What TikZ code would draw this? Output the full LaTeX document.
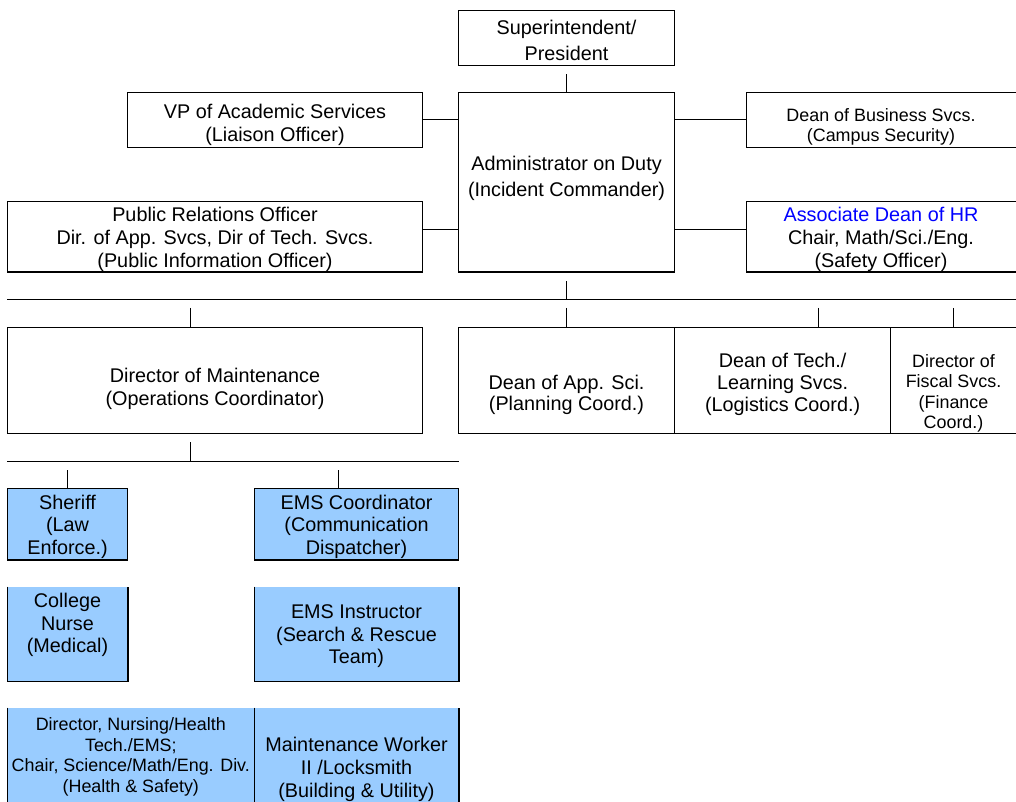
\documentclass[tikz,border=0pt]{standalone}
\usepackage{fontspec}
\setmainfont{Liberation Sans}
\usetikzlibrary{positioning, calc}
\definecolor{paleblue}{RGB}{153,204,255}
\definecolor{hrblue}{RGB}{0,0,255}

\begin{document}
\begin{tikzpicture}[
    x=1pt, y=-1pt,
    box/.style={rectangle, draw=black, line width=1.2pt, inner sep=0pt},
    bluebox/.style={rectangle, fill=paleblue, inner sep=0pt},
    txt/.style={align=center, inner sep=0pt, font=\fontsize{19.8}{22.7}\selectfont},
    smalltxt/.style={txt, font=\fontsize{17.9}{20.6}\selectfont},
    tighttxt/.style={txt, font=\fontsize{19.8}{21.7}\selectfont},
    widetxt/.style={txt, font=\fontsize{19.8}{26.7}\selectfont},
    link/.style={line width=1.2pt},
    drop/.style={link, shorten <=8.5pt}
]
    \useasboundingbox (0,0) rectangle (1016,802);

    % command staff
    \node[box, minimum width=216.3pt, minimum height=54.6pt] (super) at (566.5,38) {};
    \node[box, minimum width=216.3pt, minimum height=179.7pt] (admin) at (566.5,182.2) {};
    \node[box, minimum width=295.4pt, minimum height=55pt] (vp) at (275,119.8) {};
    \node[box, minimum width=415.4pt, minimum height=70.7pt] (pr) at (215,236.7) {};
    \node[box, minimum width=271.5pt, minimum height=55pt] (dbus) at (882.3,119.8) {};
    \node[box, minimum width=271.5pt, minimum height=70.7pt] (assoc) at (882.3,236.7) {};

    \node[widetxt] (superT) at ($(super)+(0,2.5)$) {Superintendent/\\President};
    \node[widetxt] (adminT) at ($(admin)+(0,-3.9)$) {Administrator on Duty\\(Incident Commander)};
    \node[txt] (vpT) at ($(vp)+(0,5.2)$) {VP of Academic Services\\(Liaison Officer)};
    \node[txt] (prT) at ($(pr)+(0,2.8)$) {Public Relations Officer\\Dir. of App. Svcs, Dir of Tech. Svcs.\\(Public Information Officer)};
    \node[smalltxt] (dbusT) at ($(dbus)+(-1.3,6.9)$) {Dean of Business Svcs.\\(Campus Security)};
    \node[txt] (assocT) at ($(assoc)+(-1.3,2.8)$) {\textcolor{hrblue}{Associate Dean of HR}\\Chair, Math/Sci./Eng.\\(Safety Officer)};

    % general staff
    \node[box, minimum width=415.4pt, minimum height=106pt] (dmaint) at (215,380.3) {};
    \node[box, minimum width=216.3pt, minimum height=106pt] (dapp) at (566.5,380.3) {};
    \node[box, minimum width=216.1pt, minimum height=106pt] (dtech) at (782.6,380.3) {};
    \node[box, minimum width=127.3pt, minimum height=106pt] (fiscal) at (954.4,380.3) {};

    \node[txt] (dmaintT) at ($(dmaint)+(0,8.9)$) {Director of Maintenance\\(Operations Coordinator)};
    \node[tighttxt] (dappT) at ($(dapp)+(0,14.7)$) {Dean of App. Sci.\\(Planning Coord.)};
    \node[tighttxt] (dtechT) at ($(dtech)+(0,3.9)$) {Dean of Tech./\\Learning Svcs.\\(Logistics Coord.)};
    \node[smalltxt] (fiscalT) at ($(fiscal)+(-0.9,13)$) {Director of\\Fiscal Svcs.\\(Finance\\Coord.)};

    % operations units
    \node[box, fill=paleblue, minimum width=120.4pt, minimum height=71.7pt] (sheriff) at (67.5,524.2) {};
    \node[box, fill=paleblue, minimum width=204.4pt, minimum height=71.7pt] (emsc) at (356.5,524.2) {};
    \node[bluebox, minimum width=120.4pt, minimum height=94.3pt] (nurse) at (67.5,633.9) {};
    \node[bluebox, minimum width=204.4pt, minimum height=94.3pt] (emsi) at (356.5,633.9) {};
    \node[bluebox, minimum width=247pt, minimum height=112.3pt] (dnurs) at (130.8,763.9) {};
    \node[bluebox, minimum width=204.4pt, minimum height=112.3pt] (mwork) at (356.5,763.9) {};
    \foreach \n in {nurse, emsi, dnurs, mwork}
        \draw[link] (\n.north west) -- (\n.south west) -- (\n.south east) -- (\n.north east);

    \node[txt] (sheriffT) at ($(sheriff)+(0,2.5)$) {Sheriff\\(Law\\Enforce.)};
    \node[txt] (emscT) at ($(emsc)+(0,2.5)$) {EMS Coordinator\\(Communication\\Dispatcher)};
    \node[txt] (nurseT) at ($(nurse)+(0,-8.9)$) {College\\Nurse\\(Medical)};
    \node[txt] (emsiT) at ($(emsi)+(0,2.3)$) {EMS Instructor\\(Search \& Rescue\\Team)};
    \node[smalltxt] (dnursT) at ($(dnurs)+(0,-7.2)$) {Director, Nursing/Health\\Tech./EMS;\\Chair, Science/Math/Eng. Div.\\(Health \& Safety)};
    \node[txt] (mworkT) at ($(mwork)+(0,5.3)$) {Maintenance Worker\\II /Locksmith\\(Building \& Utility)};

    % connectors
    \coordinate (bus1L) at (7.3,299.3);
    \coordinate (bus1R) at (1018,299.3);
    \coordinate (bus2L) at (7.3,461.7);
    \coordinate (bus2R) at (459.3,461.7);
    \coordinate (prlink) at ($(pr.east)+(0,-7.4)$);
    \coordinate (hrlink) at ($(assoc.west)+(0,-7.4)$);

    \draw[drop] (super.south) -- (admin.north);
    \draw[link] (vp.east) -- (vp.east -| admin.west);
    \draw[link] (prlink) -- (prlink -| admin.west);
    \draw[link] (dbus.west) -- (dbus.west -| admin.east);
    \draw[link] (hrlink) -- (hrlink -| admin.east);

    \draw[drop] (admin.south) -- (admin.south |- bus1L);
    \draw[link] (bus1L) -- (bus1R);
    \draw[drop] ([xshift=-24.3pt]dmaint.north |- bus1L) -- ([xshift=-24.3pt]dmaint.north);
    \draw[drop] (dapp.north |- bus1L) -- (dapp.north);
    \draw[drop] ([xshift=36.1pt]dtech.north |- bus1L) -- ([xshift=36.1pt]dtech.north);
    \draw[drop] ([xshift=-0.8pt]fiscal.north |- bus1L) -- ([xshift=-0.8pt]fiscal.north);

    \draw[drop] ([xshift=-24.3pt]dmaint.south) -- ([xshift=-24.3pt]dmaint.south |- bus2L);
    \draw[link] (bus2L) -- (bus2R);
    \draw[drop] (sheriff.north |- bus2L) -- (sheriff.north);
    \draw[drop] ([xshift=-18.2pt]emsc.north |- bus2L) -- ([xshift=-18.2pt]emsc.north);
\end{tikzpicture}
\end{document}
